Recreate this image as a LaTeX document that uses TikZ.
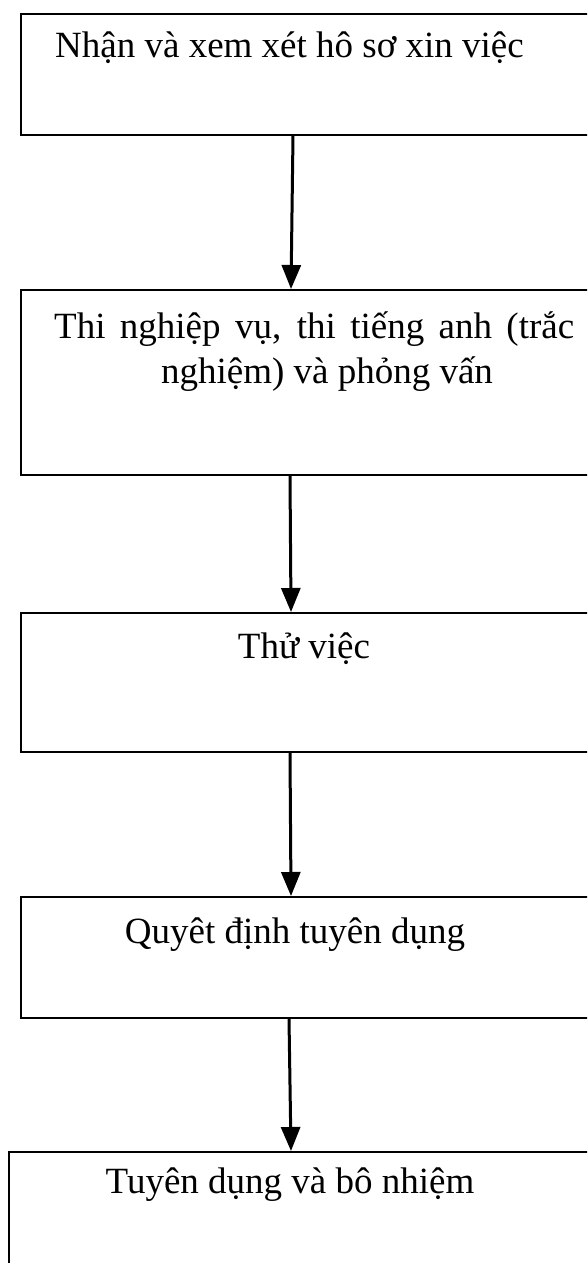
\documentclass[tikz,border=0pt]{standalone}
\usepackage{fontspec}
\setmainfont{Liberation Serif}
\usetikzlibrary{arrows.meta,calc}
\begin{document}
\begin{tikzpicture}[x=1pt,y=-1pt,
  stagebox/.style={draw=black, line width=1.8pt, inner sep=0pt, anchor=north west, minimum width=580pt},
  link/.style={draw=black, line width=3pt, -{Triangle[length=24pt,width=19pt]}},
  lbl/.style={font=\fontsize{37}{45}\selectfont, inner sep=0pt, anchor=base}]
\useasboundingbox (0,0) rectangle (587,1263);
\clip (0,0) rectangle (587,1263);

% stage boxes (the right and lower parts run off the page)
\node[stagebox, minimum height=121pt] (b1) at (20,13) {};
\node[stagebox, minimum height=185pt] (b2) at (20,289) {};
\node[stagebox, minimum height=139pt] (b3) at (20,612) {};
\node[stagebox, minimum height=121pt] (b4) at (20,896) {};
\node[stagebox, minimum width=600pt, minimum height=140pt] (b5) at (8,1151) {};

% stage labels
\node[lbl, anchor=base west] (t1) at (55,58) {Nhận và xem xét hô sơ xin việc};
\node[lbl, anchor=base west] (t2a) at (54,338) {\makebox[520pt][s]{Thi nghiệp vụ, thi tiếng anh (trắc}};
\node[lbl] (t2b) at (327,383) {nghiệm) và phỏng vấn};
\node[lbl] (t3) at (304,658) {Thử việc};
\node[lbl] (t4) at (295,943) {Quyêt định tuyên dụng};
\node[lbl] (t5) at (290,1193) {Tuyên dụng và bô nhiệm};

% flow arrows between stages
\draw[link] ($(b1.south west)+(273,0)$) -- ($(b2.north west)+(271,0)$);
\draw[link] ($(b2.south west)+(270,0)$) -- ($(b3.north west)+(271,0)$);
\draw[link] ($(b3.south west)+(270,0)$) -- ($(b4.north west)+(271,0)$);
\draw[link] ($(b4.south west)+(269,0)$) -- ($(b5.north west)+(283,0)$);
\end{tikzpicture}
\end{document}
